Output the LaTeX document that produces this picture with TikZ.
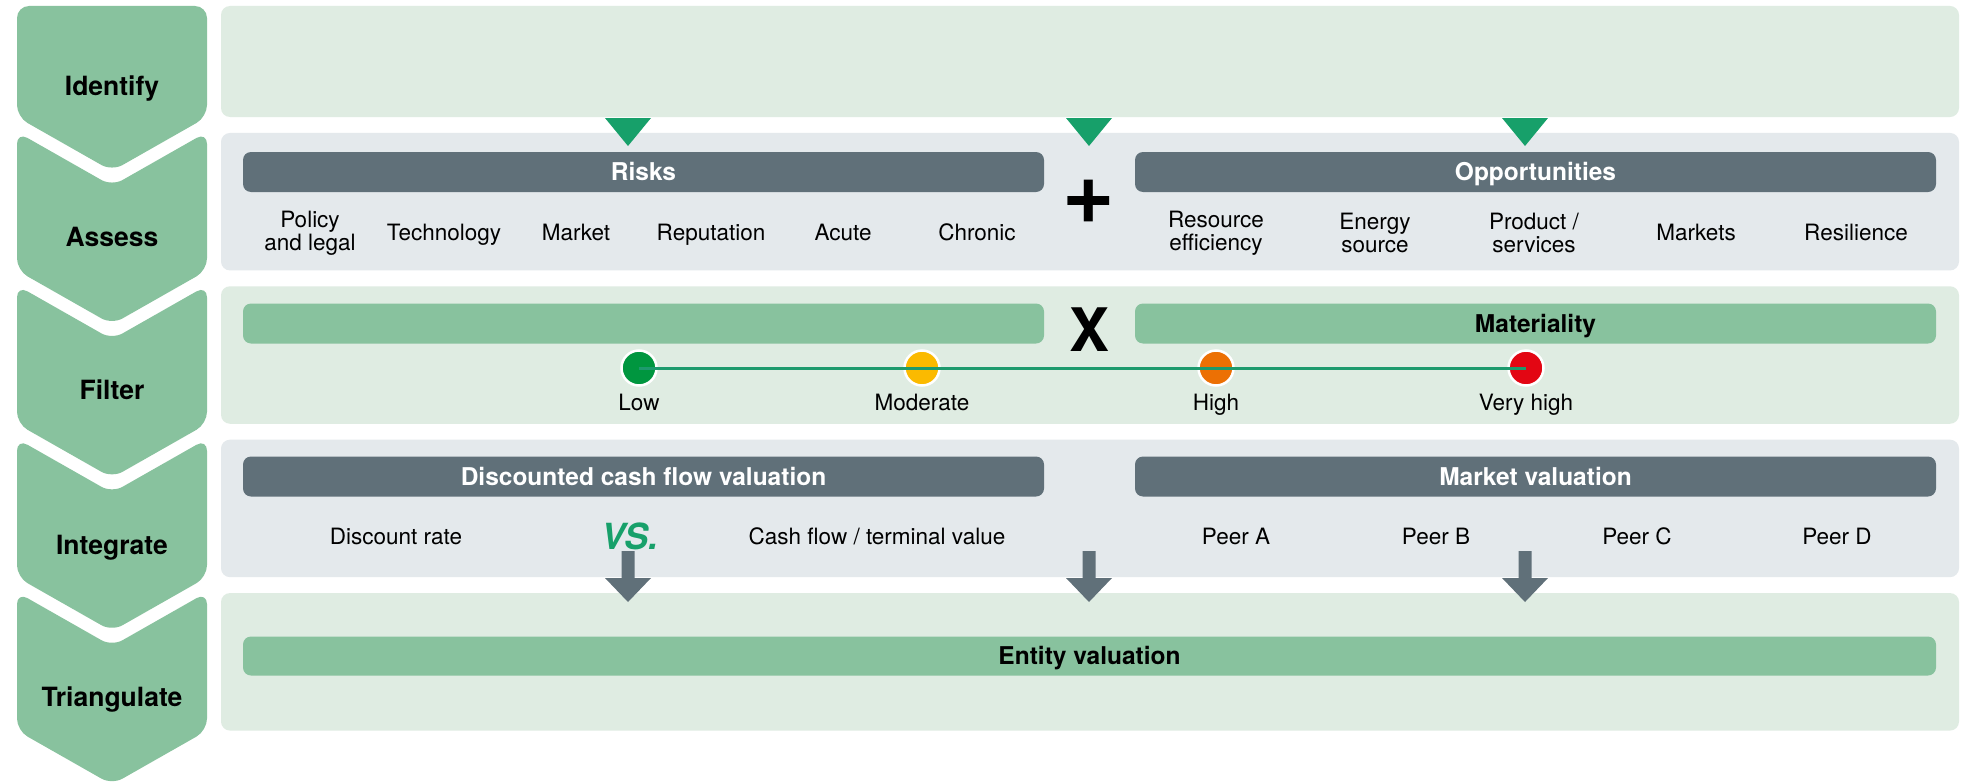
\documentclass[tikz,border=0pt]{standalone}
\usepackage{fontspec}
\setmainfont{TeX Gyre Heros}
\definecolor{colGreen}{HTML}{88C29E}
\definecolor{panelGreen}{HTML}{DFECE2}
\definecolor{panelGrey}{HTML}{E4E9EC}
\definecolor{barGrey}{HTML}{607079}
\definecolor{triGreen}{HTML}{17A06A}
\definecolor{lineGreen}{HTML}{1D9A6D}
\definecolor{cLow}{HTML}{00963F}
\definecolor{cMod}{HTML}{FBBA00}
\definecolor{cHigh}{HTML}{EC7004}
\definecolor{cVHigh}{HTML}{E30613}
\tikzset{
  lbl/.style={font=\fontsize{22.5}{23}\selectfont, text=black, inner sep=0pt, text height=16pt, text depth=0pt},
  lbltwo/.style={font=\fontsize{22.5}{23}\selectfont, text=black, inner sep=0pt, align=center},
  barhead/.style={font=\fontsize{24.5}{28}\selectfont\bfseries, text height=17.5pt, text depth=0pt},
  stage/.style={font=\fontsize{26.5}{30}\selectfont\bfseries, text=black, inner sep=0pt, text height=19pt, text depth=0pt},
  greybar/.style={fill=barGrey, rounded corners=8pt, inner sep=0pt, minimum height=40pt, text=white},
  greenbar/.style={fill=colGreen, rounded corners=8pt, inner sep=0pt, minimum height=40pt, text=black},
  panel/.style={rounded corners=9pt, inner sep=0pt},
  dot/.style={circle, draw=white, line width=2.5pt, inner sep=0pt, minimum size=35pt},
  seg/.style={fill=colGreen, rounded corners=12pt},
  tri/.style={fill=triGreen},
  garrow/.style={fill=barGrey}
}
\begin{document}
\begin{tikzpicture}[x=1pt,y=-1pt]
\useasboundingbox (0,0) rectangle (1965,784);
\fill[white] (0,0) rectangle (1965,784);

% ---- chevron column ----
\fill[seg] (17,6) -- (207,6) -- (207,117) -- (112,171) -- (17,117) -- cycle;
\fill[seg] (17,132) -- (112,186) -- (207,132) -- (207,270.4) -- (112,324.4) -- (17,270.4) -- cycle;
\fill[seg] (17,285.4) -- (112,339.4) -- (207,285.4) -- (207,423.8) -- (112,477.8) -- (17,423.8) -- cycle;
\fill[seg] (17,438.8) -- (112,492.8) -- (207,438.8) -- (207,577.2) -- (112,631.2) -- (17,577.2) -- cycle;
\fill[seg] (17,592.2) -- (112,646.2) -- (207,592.2) -- (207,730.6) -- (112,784.6) -- (17,730.6) -- cycle;

\node[stage] (sIdentify) at (112,86) {Identify};
\node[stage] (sAssess) at (112,237) {Assess};
\node[stage] (sFilter) at (112,390) {Filter};
\node[stage] (sIntegrate) at (112,545) {Integrate};
\node[stage] (sTriangulate) at (112,697) {Triangulate};

% ---- panels ----
\node[panel, fill=panelGreen, minimum width=1738pt, minimum height=111pt] (pIdentify) at (1090,61.5) {};
\node[panel, fill=panelGrey, minimum width=1738pt, minimum height=137.5pt] (pAssess) at (1090,201.7) {};
\node[panel, fill=panelGreen, minimum width=1738pt, minimum height=137.5pt] (pFilter) at (1090,355) {};
\node[panel, fill=panelGrey, minimum width=1738pt, minimum height=137.5pt] (pIntegrate) at (1090,508.4) {};
\node[panel, fill=panelGreen, minimum width=1738pt, minimum height=137.5pt] (pTriangulate) at (1090,661.8) {};

% ---- green triangles ----
\fill[tri] (605,118) -- (651,118) -- (628,146) -- cycle;
\fill[tri] (1066,118) -- (1112,118) -- (1089,146) -- cycle;
\fill[tri] (1502,118) -- (1548,118) -- (1525,146) -- cycle;

% ---- Assess ----
\node[greybar, barhead, minimum width=801pt] (risks) at (643.5,172) {Risks};
\node[greybar, barhead, minimum width=801pt] (opps) at (1535.5,172) {Opportunities};
\node[font=\fontsize{90}{90}\selectfont\bfseries, inner sep=0pt] (plus) at (1089,202) {+};

\node[lbltwo] (rPolicy) at (310,233) {Policy\\and legal};
\node[lbl] (rTech) at (444,232) {Technology};
\node[lbl] (rMarket) at (576,232) {Market};
\node[lbl] (rRep) at (711,232) {Reputation};
\node[lbl] (rAcute) at (843,232) {Acute};
\node[lbl] (rChronic) at (977,232) {Chronic};

\node[lbltwo] (oRes) at (1216,233) {Resource\\efficiency};
\node[lbltwo] (oEnergy) at (1375,233) {Energy\\source};
\node[lbltwo] (oProd) at (1534,233) {Product /\\services};
\node[lbl] (oMarkets) at (1696,232) {Markets};
\node[lbl] (oResil) at (1856,232) {Resilience};

% ---- Filter ----
\node[greenbar, minimum width=801pt] (fLeft) at (643.5,323.5) {};
\node[greenbar, barhead, minimum width=801pt] (fMat) at (1535.5,323.5) {Materiality};
\node[font=\fontsize{60}{60}\selectfont\bfseries, inner sep=0pt, text height=43pt, text depth=0pt] (times) at (1089,330) {X};

\node[dot, fill=cLow] (dLow) at (639,368) {};
\node[dot, fill=cMod] (dMod) at (922,368) {};
\node[dot, fill=cHigh] (dHigh) at (1216,368) {};
\node[dot, fill=cVHigh] (dVHigh) at (1526,368) {};
\draw[lineGreen, line width=3pt] (dLow.center) -- (dVHigh.center);

\node[lbl] (tLow) at (639,402) {Low};
\node[lbl] (tMod) at (922,402) {Moderate};
\node[lbl] (tHigh) at (1216,402) {High};
\node[lbl] (tVHigh) at (1526,402) {Very high};

% ---- Integrate ----
\node[greybar, barhead, minimum width=801pt] (dcf) at (643.5,476.5) {Discounted cash flow valuation};
\node[greybar, barhead, minimum width=801pt] (mval) at (1535.5,476.5) {Market valuation};

\node[lbl] (iDisc) at (396,536) {Discount rate};
\node[font=\fontsize{36}{36}\selectfont\bfseries\itshape, text=triGreen, inner sep=0pt, text height=26pt, text depth=0pt] (vs) at (630,536) {VS.};
\node[lbl] (iCash) at (877,536) {Cash flow / terminal value};
\node[lbl] (pA) at (1236,536) {Peer A};
\node[lbl] (pB) at (1436,536) {Peer B};
\node[lbl] (pC) at (1637,536) {Peer C};
\node[lbl] (pD) at (1837,536) {Peer D};

\fill[garrow] (621.5,551) -- (634.5,551) -- (634.5,578) -- (651,578) -- (628,602) -- (605,578) -- (621.5,578) -- cycle;
\fill[garrow] (1082.5,551) -- (1095.5,551) -- (1095.5,578) -- (1112,578) -- (1089,602) -- (1066,578) -- (1082.5,578) -- cycle;
\fill[garrow] (1518.5,551) -- (1531.5,551) -- (1531.5,578) -- (1548,578) -- (1525,602) -- (1502,578) -- (1518.5,578) -- cycle;

% ---- Triangulate ----
\node[greenbar, barhead, minimum width=1693pt, minimum height=39pt] (entity) at (1089.5,656) {Entity valuation};
\end{tikzpicture}
\end{document}
